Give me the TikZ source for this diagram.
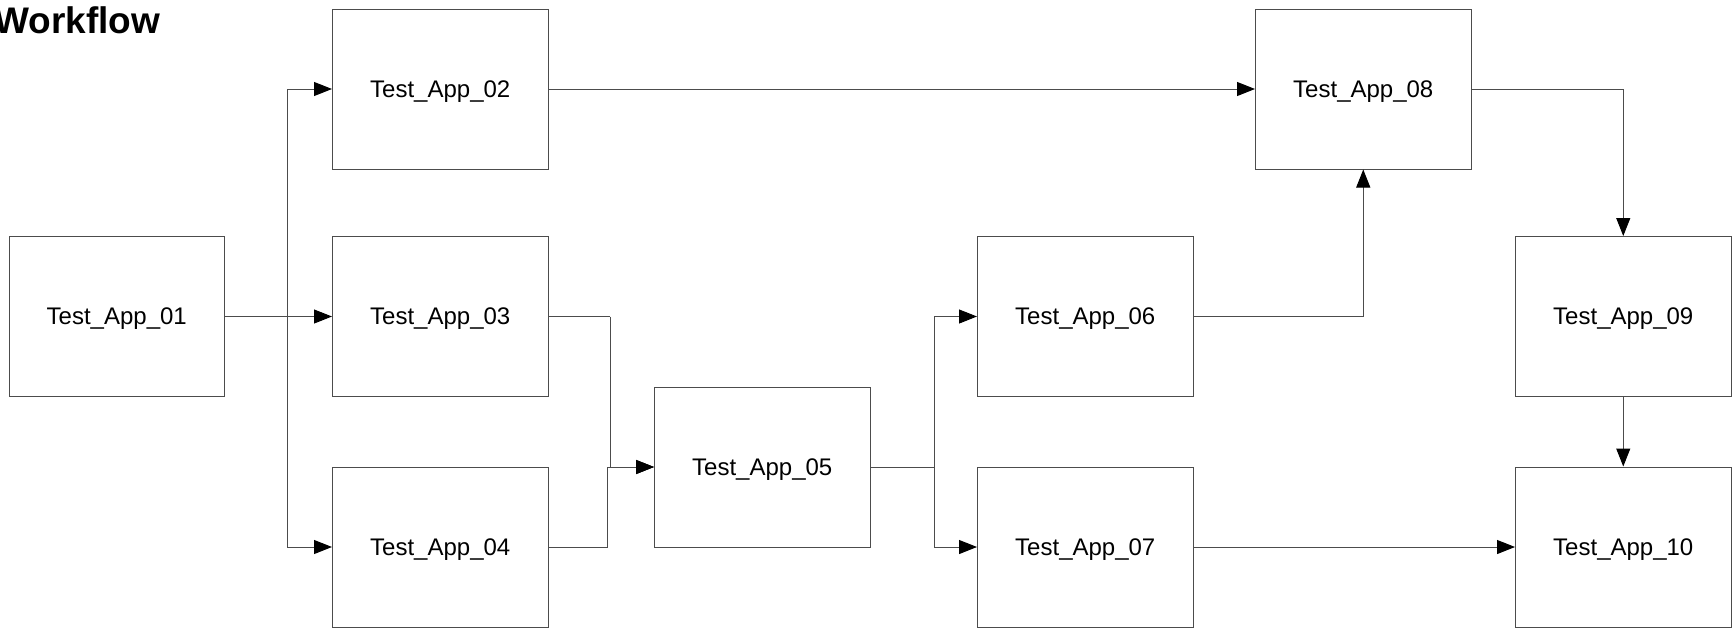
\documentclass[tikz,border=0pt]{standalone}
\usepackage{fontspec}
\setmainfont{Liberation Sans}
\usetikzlibrary{arrows.meta}
\tikzset{
  app/.style={draw=black!70, line width=0.5pt, rectangle, inner sep=0pt,
    minimum width=107.75pt, minimum height=80pt, fill=white, text depth=0pt,
    font=\fontsize{12pt}{14pt}\selectfont},
  conn/.style={draw=black!70, line width=0.5pt,
    -{Triangle[length=9pt,width=7pt,color=black]}},
  plain/.style={draw=black!70, line width=0.5pt},
  title/.style={anchor=base west, inner sep=0pt,
    font=\bfseries\fontsize{18.5pt}{20pt}\selectfont}
}
\begin{document}
\begin{tikzpicture}[x=0.5pt,y=-0.5pt]
\useasboundingbox (0,0) rectangle (1733,627);
\fill[white] (0,0) rectangle (1733,627);
\node[title] (title) at (-6,33) {Workflow};
\node[app] (a01) at (116.75,316.5) {Test\_App\_01};
\node[app] (a02) at (440.25,89) {Test\_App\_02};
\node[app] (a03) at (440.25,316.5) {Test\_App\_03};
\node[app] (a04) at (440.25,547) {Test\_App\_04};
\node[app] (a05) at (762.25,467) {Test\_App\_05};
\node[app] (a06) at (1085.25,316.5) {Test\_App\_06};
\node[app] (a07) at (1085.25,547) {Test\_App\_07};
\node[app] (a08) at (1363.25,89) {Test\_App\_08};
\node[app] (a09) at (1623.25,316.5) {Test\_App\_09};
\node[app] (a10) at (1623.25,547) {Test\_App\_10};
\coordinate (b1) at (287.5,316.5);
\coordinate (b2) at (934,467);
\coordinate (j3) at (610,316.5);
\coordinate (j4) at (607.5,547);
% 01 -> 02,03,04
\draw[conn] (a01.east) -- (a03.west);
\draw[conn] (b1) |- (a02.west);
\draw[conn] (b1) |- (a04.west);
% 03,04 -> 05
\draw[plain] (a03.east) -- (j3);
\draw[conn] (j3) |- (a05.west);
\draw[plain] (a04.east) -- (j4);
\draw[conn] (j4) |- (a05.west);
% 05 -> 06,07
\draw[plain] (a05.east) -- (b2);
\draw[conn] (b2) |- (a06.west);
\draw[conn] (b2) |- (a07.west);
% others
\draw[conn] (a02.east) -- (a08.west);
\draw[conn] (a06.east) -| (a08.south);
\draw[conn] (a08.east) -| (a09.north);
\draw[conn] (a09.south) -- (a10.north);
\draw[conn] (a07.east) -- (a10.west);
\end{tikzpicture}
\end{document}
